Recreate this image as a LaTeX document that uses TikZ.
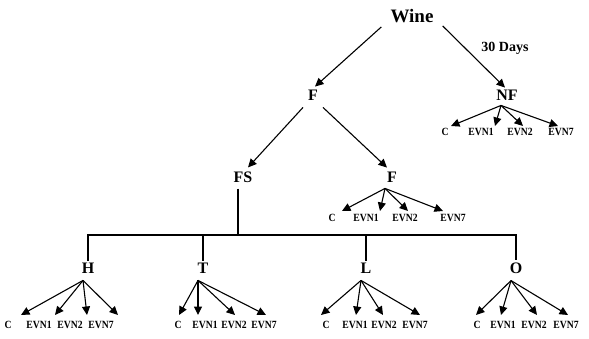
\documentclass[tikz,border=0pt]{standalone}
\usepackage{fontspec}
\setmainfont{Liberation Serif}
\newfontfamily\kidfont[FakeStretch=0.88]{Liberation Serif}
\usetikzlibrary{arrows.meta,calc}
\begin{document}
\begin{tikzpicture}[x=1pt,y=-1pt,
  top/.style={font=\bfseries\fontsize{19}{21}\selectfont, inner sep=3pt},
  lab/.style={font=\bfseries\fontsize{16}{18}\selectfont, inner sep=2pt},
  daylab/.style={font=\bfseries\fontsize{14}{16}\selectfont, inner sep=1pt},
  kid/.style={font=\kidfont\bfseries\fontsize{11}{13}\selectfont, inner sep=1pt},
  arr/.style={line width=1.1pt, -{Triangle[length=8.5pt,width=8pt]}},
  ln/.style={line width=1.1pt}]
\useasboundingbox (0,0) rectangle (589,339);

% main nodes
\node[top] (wine) at (412,16) {Wine};
\node[lab] (f1) at (313,95) {F};
\node[lab] (nf) at (507,95) {NF};
\node[daylab] (days) at (505,48) {30 Days};
\node[lab] (fs) at (243,177) {FS};
\node[lab] (f2) at (392,177) {F};
\node[lab] (h) at (88,268) {H};
\node[lab] (t) at (203,268) {T};
\node[lab] (l) at (366,268) {L};
\node[lab] (o) at (516,268) {O};
\coordinate (bar) at (238,235);

% upper edges
\draw[arr] ($(wine.south west)+(-6,1)$) -- ($(f1.north)+(2,-1)$);
\draw[arr] ($(wine.south east)+(6,0)$) -- ($(nf.north)+(-2,0)$);
\draw[arr] ($(f1.south)+(-10,5)$) -- ($(fs.north)+(5,-2)$);
\draw[arr] ($(f1.south)+(10,5)$) -- ($(f2.north)+(-5,-2)$);

% FS bar
\draw[ln] ($(fs.south)+(-5,4)$) -- (bar);
\draw[ln] (h.north) -- (h.north |- bar) -- (o.north |- bar) -- (o.north);
\draw[ln] (t.north) -- (t.north |- bar);
\draw[ln] (l.north) -- (l.north |- bar);

% NF children
\foreach \txt/\lx/\tx [count=\i] in {C/445/451,EVN1/481/495,EVN2/520/523,EVN7/561/558}{
  \node[kid] (nfk\i) at (\lx,132) {\txt};
  \coordinate (nft\i) at (\tx,126);
  \draw[arr] ($(nf.south)+(-6,3)$) -- (nft\i);
}
% F children
\foreach \txt/\lx/\tx [count=\i] in {C/332/342,EVN1/366/380,EVN2/405/408,EVN7/453/443}{
  \node[kid] (f2k\i) at (\lx,218) {\txt};
  \coordinate (f2t\i) at (\tx,211);
  \draw[arr] ($(f2.south)+(-7,4)$) -- (f2t\i);
}
% H children
\foreach \txt/\lx/\tx [count=\i] in {C/8/21,EVN1/39/55,EVN2/70/87,EVN7/101/118}{
  \node[kid] (hk\i) at (\lx,325) {\txt};
  \coordinate (ht\i) at (\tx,315);
  \draw[arr] ($(h.south)+(-5,5)$) -- (ht\i);
}
% T children
\foreach \txt/\lx/\tx [count=\i] in {C/178/179,EVN1/205/198,EVN2/234/235,EVN7/264/266}{
  \node[kid] (tk\i) at (\lx,325) {\txt};
  \coordinate (tt\i) at (\tx,315);
  \draw[arr] ($(t.south)+(-5,5)$) -- (tt\i);
}
% L children
\foreach \txt/\lx/\tx [count=\i] in {C/326/321,EVN1/355/356,EVN2/384/383,EVN7/415/420}{
  \node[kid] (lk\i) at (\lx,325) {\txt};
  \coordinate (lt\i) at (\tx,315);
  \draw[arr] ($(l.south)+(-5,5)$) -- (lt\i);
}
% O children
\foreach \txt/\lx/\tx [count=\i] in {C/477/476,EVN1/503/501,EVN2/534/537,EVN7/566/568}{
  \node[kid] (ok\i) at (\lx,325) {\txt};
  \coordinate (ot\i) at (\tx,315);
  \draw[arr] ($(o.south)+(-5,5)$) -- (ot\i);
}
\end{tikzpicture}
\end{document}
